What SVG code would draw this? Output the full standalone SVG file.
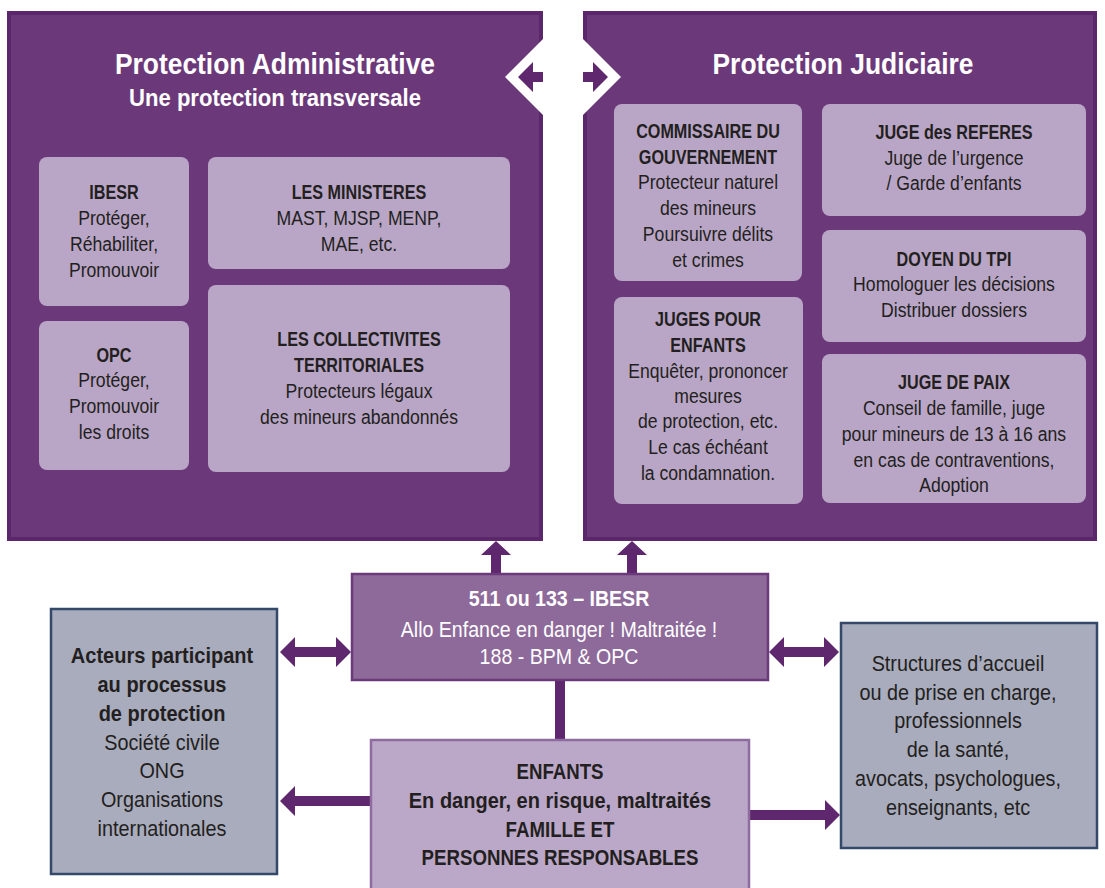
<svg xmlns="http://www.w3.org/2000/svg" width="1105" height="888" viewBox="0 0 1105 888">
<style>
text{font-family:"Liberation Sans",Arial,sans-serif;text-anchor:middle;font-size:21px;fill:#231f20;transform:scale(0.84,1)}
text.b{font-weight:bold;transform:scale(0.77,1)}
.w{fill:#ffffff}
text.title{font-size:29px;font-weight:bold;fill:#ffffff;transform:scale(0.91,1)}
text.sub{font-size:23px;font-weight:bold;fill:#ffffff;transform:scale(0.96,1)}
.lg text{font-size:22.5px;transform:scale(0.88,1)}
.lg text.b{transform:scale(0.83,1)}
.lg text.bl{transform:scale(0.89,1)}
.ctr text{font-size:22.5px;transform:scale(0.87,1)}
.panel{fill:#6b3979;stroke:#5a286a;stroke-width:4}
.inner{fill:#b9a6c6}
.gray{fill:#a9acbd;stroke:#34496a;stroke-width:2.5}
.arr{fill:#5f276e}
</style>

<g id="panel-admin">
<rect class="panel" x="9" y="13" width="532" height="526"/>
<g transform="translate(275 0)">
<text class="title" x="0" y="74">Protection Administrative</text>
<text class="sub" x="0" y="106">Une protection transversale</text>
</g>
</g>

<g id="panel-judiciaire">
<rect class="panel" x="585" y="13" width="510" height="526"/>
<g transform="translate(843 0)">
<text class="title" x="0" y="74">Protection Judiciaire</text>
</g>
</g>

<g id="node-ibesr">
<rect class="inner" x="39" y="157" width="150" height="149" rx="8"/>
<g transform="translate(114 0)">
<text class="b" x="0" y="199">IBESR</text>
<text x="0" y="225">Protéger,</text>
<text x="0" y="251">Réhabiliter,</text>
<text x="0" y="277">Promouvoir</text>
</g>
</g>

<g id="node-opc">
<rect class="inner" x="39" y="321" width="150" height="149" rx="8"/>
<g transform="translate(114 0)">
<text class="b" x="0" y="362">OPC</text>
<text x="0" y="387">Protéger,</text>
<text x="0" y="413">Promouvoir</text>
<text x="0" y="439">les droits</text>
</g>
</g>

<g id="node-ministeres">
<rect class="inner" x="208" y="157" width="302" height="112" rx="8"/>
<g transform="translate(359 0)">
<text class="b" x="0" y="199">LES MINISTERES</text>
<text x="0" y="225">MAST, MJSP, MENP,</text>
<text x="0" y="251">MAE, etc.</text>
</g>
</g>

<g id="node-collectivites">
<rect class="inner" x="208" y="285" width="302" height="187" rx="8"/>
<g transform="translate(359 0)">
<text class="b" x="0" y="346">LES COLLECTIVITES</text>
<text class="b" x="0" y="372">TERRITORIALES</text>
<text x="0" y="398">Protecteurs légaux</text>
<text x="0" y="424">des mineurs abandonnés</text>
</g>
</g>

<g id="node-commissaire">
<rect class="inner" x="614" y="104" width="188" height="177" rx="8"/>
<g transform="translate(708 0)">
<text class="b" x="0" y="138">COMMISSAIRE DU</text>
<text class="b" x="0" y="164">GOUVERNEMENT</text>
<text x="0" y="189">Protecteur naturel</text>
<text x="0" y="215">des mineurs</text>
<text x="0" y="241">Poursuivre délits</text>
<text x="0" y="267">et crimes</text>
</g>
</g>

<g id="node-juges-enfants">
<rect class="inner" x="614" y="297" width="189" height="207" rx="8"/>
<g transform="translate(708 0)">
<text class="b" x="0" y="326">JUGES POUR</text>
<text class="b" x="0" y="352">ENFANTS</text>
<text x="0" y="378">Enquêter, prononcer</text>
<text x="0" y="403">mesures</text>
<text x="0" y="428">de protection, etc.</text>
<text x="0" y="454">Le cas échéant</text>
<text x="0" y="480">la condamnation.</text>
</g>
</g>

<g id="node-referes">
<rect class="inner" x="822" y="104" width="264" height="112" rx="8"/>
<g transform="translate(954 0)">
<text class="b" x="0" y="139">JUGE des REFERES</text>
<text x="0" y="165">Juge de l’urgence</text>
<text x="0" y="190">/ Garde d’enfants</text>
</g>
</g>

<g id="node-doyen">
<rect class="inner" x="822" y="230" width="264" height="112" rx="8"/>
<g transform="translate(954 0)">
<text class="b" x="0" y="266">DOYEN DU TPI</text>
<text x="0" y="291">Homologuer les décisions</text>
<text x="0" y="317">Distribuer dossiers</text>
</g>
</g>

<g id="node-paix">
<rect class="inner" x="822" y="354" width="264" height="149" rx="8"/>
<g transform="translate(954 0)">
<text class="b" x="0" y="389">JUGE DE PAIX</text>
<text x="0" y="415">Conseil de famille, juge</text>
<text x="0" y="441">pour mineurs de 13 à 16 ans</text>
<text x="0" y="467">en cas de contraventions,</text>
<text x="0" y="492">Adoption</text>
</g>
</g>

<g id="connectors">
<polygon points="505,77 563,19 621,77 563,135" fill="#ffffff"/>
<rect x="543" y="0" width="40" height="560" fill="#ffffff"/>
<polygon class="arr" points="518,77 533,62 533,72 543,72 543,82 533,82 533,92"/>
<polygon class="arr" points="608,77 593,62 593,72 583,72 583,82 593,82 593,92"/>
<polygon class="arr" points="496,541 511,555 501,555 501,574 491,574 491,555 481,555"/>
<polygon class="arr" points="632,541 647,555 637,555 637,574 627,574 627,555 617,555"/>
<polygon class="arr" points="280,652 295,637 295,647 336,647 336,637 351,652 336,667 336,657 295,657 295,667"/>
<polygon class="arr" points="769,652 784,637 784,647 824,647 824,637 839,652 824,667 824,657 784,657 784,667"/>
<rect class="arr" x="555" y="680" width="10" height="60"/>
<polygon class="arr" points="280,801 295,786 295,796 371,796 371,806 295,806 295,816"/>
<polygon class="arr" points="840,815 825,800 825,810 749,810 749,820 825,820 825,830"/>
</g>

<g id="node-center" class="ctr">
<rect x="352" y="574" width="416" height="106" fill="#8e6a9a" stroke="#6b3a7b" stroke-width="2.5"/>
<g transform="translate(559 0)">
<text class="b w" x="0" y="606">511 ou 133 – IBESR</text>
<text class="w" x="0" y="637">Allo Enfance en danger ! Maltraitée !</text>
<text class="w" x="0" y="664">188 - BPM &amp; OPC</text>
</g>
</g>

<g id="node-acteurs" class="lg">
<rect class="gray" x="51" y="609" width="226" height="265"/>
<g transform="translate(162 0)">
<text class="b bl" x="0" y="663">Acteurs participant</text>
<text class="b bl" x="0" y="692">au processus</text>
<text class="b bl" x="0" y="721">de protection</text>
<text x="0" y="750">Société civile</text>
<text x="0" y="778">ONG</text>
<text x="0" y="807">Organisations</text>
<text x="0" y="836">internationales</text>
</g>
</g>

<g id="node-structures" class="lg">
<rect class="gray" x="841" y="623" width="256" height="225"/>
<g transform="translate(958 0)">
<text x="0" y="671">Structures d’accueil</text>
<text x="0" y="700">ou de prise en charge,</text>
<text x="0" y="728">professionnels</text>
<text x="0" y="757">de la santé,</text>
<text x="0" y="786">avocats, psychologues,</text>
<text x="0" y="815">enseignants, etc</text>
</g>
</g>

<g id="node-enfants" class="lg">
<rect x="371" y="740" width="378" height="160" fill="#bba8c8" stroke="#8f6ca0" stroke-width="2.5"/>
<g transform="translate(560 0)">
<text class="b" x="0" y="779">ENFANTS</text>
<text class="b bl" x="0" y="808">En danger, en risque, maltraités</text>
<text class="b" x="0" y="837">FAMILLE ET</text>
<text class="b" x="0" y="865">PERSONNES RESPONSABLES</text>
</g>
</g>
</svg>
